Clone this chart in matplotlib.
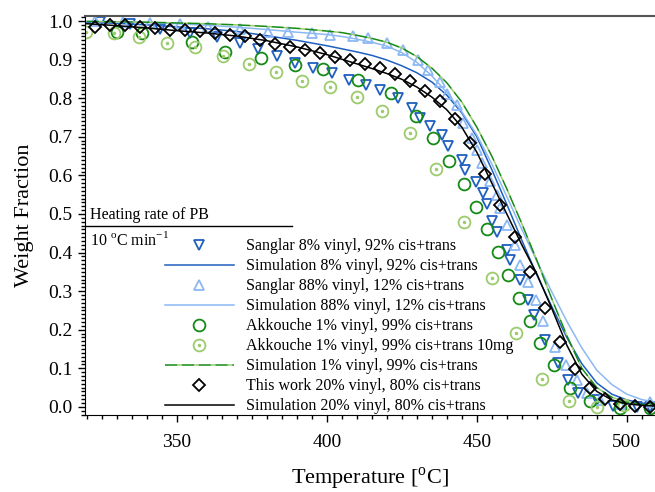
import matplotlib
matplotlib.use('Agg')
import matplotlib.pyplot as plt
import matplotlib.ticker as ticker
from matplotlib.legend_handler import HandlerTuple
from matplotlib.lines import Line2D

plt.rcParams['font.family'] = 'Liberation Serif'
plt.rcParams['mathtext.fontset'] = 'custom'
plt.rcParams['mathtext.rm'] = 'Liberation Serif'

# Sanglar 8% vinyl
T_s8 = [324.4, 334.4, 344.4, 354.4, 363.4, 371.1, 377.1, 383.4, 389.4, 395.4, 401.8, 407.4,
        413.1, 417.8, 423.8, 428.4, 431.1, 434.4, 438.4, 440.4, 445.1, 446.1, 449.8, 452.1,
        453.4, 455.1, 456.8, 460.1, 461.1, 464.4, 467.1, 469.1, 472.8, 477.1, 480.4, 483.8,
        490.1, 495.4, 503.4, 507.8]
W_s8 = [0.997, 0.992, 0.979, 0.969, 0.959, 0.944, 0.927, 0.909, 0.892, 0.877, 0.864, 0.848,
        0.834, 0.821, 0.801, 0.775, 0.749, 0.728, 0.705, 0.676, 0.640, 0.614, 0.583, 0.554,
        0.526, 0.482, 0.453, 0.407, 0.381, 0.329, 0.277, 0.238, 0.174, 0.114, 0.070, 0.036,
        0.018, 0.003, 0.0, 0.0]

# Sanglar 88% vinyl
T_s88 = [322.8, 332.1, 341.1, 351.1, 360.4, 371.1, 380.4, 387.1, 395.1, 401.1, 408.8, 413.8,
         420.1, 425.4, 430.4, 433.8, 437.8, 440.1, 443.4, 445.4, 448.4, 450.1, 451.8, 454.4,
         456.8, 457.8, 460.1, 462.8, 464.4, 467.1, 469.8, 472.1, 476.1, 479.8, 483.4, 486.8,
         491.1, 497.8, 507.8]
W_s88 = [1.0, 0.998, 0.995, 0.992, 0.985, 0.979, 0.972, 0.972, 0.968, 0.964, 0.962, 0.955,
         0.942, 0.925, 0.899, 0.873, 0.842, 0.811, 0.782, 0.736, 0.697, 0.666, 0.632, 0.585,
         0.549, 0.516, 0.472, 0.420, 0.368, 0.324, 0.277, 0.223, 0.155, 0.109, 0.070, 0.036,
         0.018, 0.008, 0.013]

# Akkouche 1% vinyl
T_a1 = [330.1, 338.4, 355.1, 366.1, 378.1, 389.4, 398.8, 410.4, 421.4, 429.6, 435.4, 440.8,
        445.8, 449.6, 453.3, 457.0, 460.5, 463.9, 467.8, 471.1, 475.8, 481.1, 487.8, 497.8, 507.8]
W_a1 = [0.971, 0.968, 0.946, 0.920, 0.903, 0.886, 0.875, 0.847, 0.813, 0.754, 0.698, 0.637,
        0.578, 0.519, 0.461, 0.402, 0.342, 0.283, 0.223, 0.165, 0.109, 0.048, 0.014, -0.003, -0.003]

# Akkouche 1% vinyl 10mg
T_a10 = [319.6, 328.9, 337.5, 346.7, 355.9, 365.3, 373.9, 383.1, 391.7, 400.9, 410.0, 418.5,
         427.8, 436.4, 445.8, 455.1, 462.9, 471.6, 480.7, 490.0, 498.9]
W_a10 = [0.972, 0.968, 0.958, 0.944, 0.932, 0.909, 0.889, 0.869, 0.845, 0.828, 0.802, 0.768,
         0.709, 0.616, 0.479, 0.334, 0.192, 0.073, 0.016, 0.001, 0.005]

# This work 20% vinyl
T_tw = [322.8, 327.8, 332.8, 337.8, 342.8, 347.8, 352.8, 357.8, 362.8, 367.8, 372.8, 377.8,
        382.8, 387.8, 392.8, 397.8, 402.8, 407.8, 412.8, 417.8, 422.8, 427.8, 432.8, 437.8,
        442.8, 447.8, 452.8, 457.8, 462.8, 467.8, 472.8, 477.8, 482.8, 487.8, 492.8, 497.8,
        502.8, 507.8]
W_tw = [0.985, 0.990, 0.990, 0.985, 0.981, 0.978, 0.977, 0.974, 0.970, 0.965, 0.962, 0.951,
        0.940, 0.933, 0.925, 0.916, 0.906, 0.899, 0.889, 0.877, 0.863, 0.845, 0.819, 0.793,
        0.746, 0.683, 0.604, 0.523, 0.440, 0.350, 0.256, 0.168, 0.098, 0.049, 0.021, 0.008,
        0.002, 0.0]

# --- Simulationen ---
T_sim = [320, 330, 340, 350, 360, 370, 380, 390, 400, 405, 410, 415, 420, 425, 430, 435, 440,
         445, 450, 455, 460, 465, 470, 475, 480, 485, 490, 495, 500, 505, 510]
W_sim8 = [0.997, 0.994, 0.990, 0.985, 0.980, 0.973, 0.962, 0.950, 0.936, 0.928, 0.920, 0.911,
          0.899, 0.884, 0.866, 0.842, 0.808, 0.762, 0.700, 0.615, 0.525, 0.432, 0.342, 0.260,
          0.180, 0.112, 0.062, 0.033, 0.018, 0.010, 0.006]
W_sim88 = [0.999, 0.998, 0.996, 0.993, 0.989, 0.984, 0.978, 0.971, 0.965, 0.960, 0.953, 0.945,
           0.935, 0.918, 0.893, 0.858, 0.815, 0.765, 0.705, 0.630, 0.545, 0.460, 0.378, 0.298,
           0.222, 0.153, 0.095, 0.058, 0.033, 0.019, 0.011]
W_sim1 = [0.999, 0.998, 0.997, 0.995, 0.993, 0.990, 0.986, 0.981, 0.974, 0.970, 0.963, 0.955,
          0.945, 0.930, 0.908, 0.878, 0.840, 0.790, 0.725, 0.650, 0.565, 0.475, 0.380, 0.280,
          0.185, 0.100, 0.050, 0.025, 0.012, 0.006, 0.004]
W_sim20 = [0.993, 0.988, 0.982, 0.975, 0.969, 0.961, 0.949, 0.933, 0.913, 0.901, 0.889, 0.877,
           0.864, 0.849, 0.829, 0.803, 0.770, 0.725, 0.660, 0.580, 0.500, 0.420, 0.345, 0.255,
           0.160, 0.085, 0.040, 0.018, 0.008, 0.004, 0.002]

labels = ['Sanglar 8% vinyl, 92% cis+trans',
          'Simulation 8% vinyl, 92% cis+trans',
          'Sanglar 88% vinyl, 12% cis+trans',
          'Simulation 88% vinyl, 12% cis+trans',
          'Akkouche 1% vinyl, 99% cis+trans',
          'Akkouche 1% vinyl, 99% cis+trans 10mg',
          'Simulation 1% vinyl, 99% cis+trans',
          'This work 20% vinyl, 80% cis+trans',
          'Simulation 20% vinyl, 80% cis+trans']

c_blue = '#1f5fbf'
c_lblue = '#8cb8f4'
c_green = '#158a15'
c_lgreen = '#9ccb6c'

fig = plt.figure(figsize=(6.55, 4.92), dpi=100)
ax = fig.add_axes([85/655, 1-415/492, 570/655, 399/492])

mk = dict(linestyle='none', markerfacecolor='none', markeredgewidth=1.3)
h_s8, = ax.plot(T_s8, W_s8, marker='v', markersize=7.5, color=c_blue, **mk)
h_sim8, = ax.plot(T_sim, W_sim8, color=c_blue, lw=1.1)
h_s88, = ax.plot(T_s88, W_s88, marker='^', markersize=7.5, color=c_lblue, **mk)
h_sim88, = ax.plot(T_sim, W_sim88, color=c_lblue, lw=1.1)
h_a1, = ax.plot(T_a1, W_a1, marker='o', markersize=8.5, color=c_green, **mk)
h_a10, = ax.plot(T_a10, W_a10, marker='o', markersize=8.5, color=c_lgreen, **mk)
h_a10d, = ax.plot(T_a10, W_a10, marker='o', markersize=1.5, color=c_lgreen, linestyle='none')
h_sim1, = ax.plot(T_sim, W_sim1, color=c_green, lw=1.1, linestyle='--', dashes=(8, 3),
                  gapcolor=c_lgreen)
h_tw, = ax.plot(T_tw, W_tw, marker='D', markersize=6.5, color='black', **mk)
h_sim20, = ax.plot(T_sim, W_sim20, color='black', lw=1.1)

ax.set_xlim(319.4, 509.4)
ax.set_ylim(-0.021, 1.013)
ax.xaxis.set_major_locator(ticker.MultipleLocator(50))
ax.xaxis.set_minor_locator(ticker.MultipleLocator(5))
ax.yaxis.set_major_locator(ticker.MultipleLocator(0.1))
ax.yaxis.set_minor_locator(ticker.MultipleLocator(0.01))
ax.yaxis.set_major_formatter(ticker.FormatStrFormatter('%.1f'))
ax.tick_params(which='both', direction='out', labelsize=14, width=1.0)
ax.tick_params(which='major', length=5)
ax.tick_params(which='minor', length=3)
ax.tick_params(axis='x', pad=9)
ax.tick_params(axis='y', pad=4)
ax.spines['right'].set_visible(False)
ax.spines['top'].set_color('#555555')
ax.spines['top'].set_linewidth(1.5)

ax.set_xlabel(r'Temperature [$^{\rm o}$C]', fontsize=16, labelpad=10)
ax.set_ylabel('Weight Fraction', fontsize=16, labelpad=10)

handles = [h_s8, h_sim8, h_s88, h_sim88, h_a1, (h_a10, h_a10d), h_sim1, h_tw, h_sim20]
ax.legend(handles, labels, loc='upper left', bbox_to_anchor=(0.1404, 0.443), frameon=False,
          fontsize=11.5, numpoints=1, handlelength=4.3, handletextpad=0.8, labelspacing=0.25,
          borderpad=0, borderaxespad=0, handler_map={tuple: HandlerTuple(ndivide=1)})

# Kopfzeile der Legende
ax.text(0.009, 0.502, 'Heating rate of PB', transform=ax.transAxes, fontsize=11.5,
        va='center', ha='left')
ax.add_line(Line2D([0, 0.363], [0.4745, 0.4745], transform=ax.transAxes, color='black', lw=1.0))
ax.text(0.009, 0.4386, r'10 $^{\rm o}$C min$^{{-}1}$', transform=ax.transAxes, fontsize=11.5,
        va='center', ha='left')

plt.savefig('out.png', dpi=100)
